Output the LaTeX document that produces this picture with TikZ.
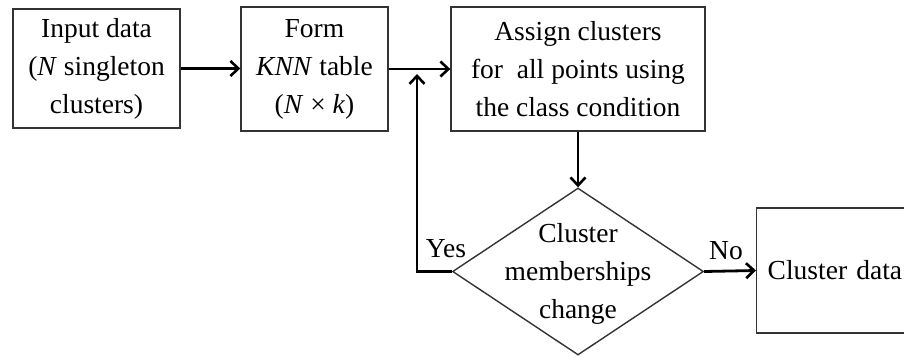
\documentclass[tikz,border=0pt]{standalone}
\usepackage{fontspec}
\setmainfont{Liberation Serif}
\usetikzlibrary{arrows.meta,shapes.geometric}
\begin{document}
\begin{tikzpicture}[x=1pt,y=-1pt,
  every node/.style={font=\fontsize{27.5}{38}\selectfont},
  box/.style={draw=black!80,line width=1.4pt,align=center,inner sep=0pt},
  dec/.style={draw=black!80,line width=1.4pt,diamond,inner sep=0pt},
  arr/.style={line width=2.8pt,-{Straight Barb[length=8pt,width=15pt,line width=2.6pt]}}]
\useasboundingbox (0,0) rectangle (904,356);
\clip (0,0) rectangle (904,356);
\node[box,minimum width=167pt,minimum height=119pt] (b1) at (96.5,68.5) {Input data\\(\textit{N} singleton\\clusters)};
\node[box,minimum width=147pt,minimum height=124pt] (b2) at (314.5,69) {Form\\\textit{KNN} table\\(\textit{N} × \textit{k})};
\node[box,minimum width=254pt,minimum height=124pt] (b3) at (578,69) {Assign clusters\\for~ all points using\\the class condition};
\node[dec,minimum width=251pt,minimum height=167pt] (d) at (578,271.5) {};
\node[align=center] (dt) at (578,274) {Cluster\\memberships\\change};
\node[box,anchor=west,text width=158pt,inner xsep=11pt,minimum height=125pt,align=left] (out) at (756,270.5) {Cluster data};
\coordinate (j) at (417,69);
\coordinate (fb) at (417,271.5);
\draw[arr] (b1.east) -- (b1.east -| b2.west);
\draw[arr] (b2.east) -- (b3.west);
\draw[arr] (b3.south) -- (d.north);
\draw[arr,shorten >=5pt] (d.west) -- (fb) -- (j);
\draw[arr] (d.east) -- (out.west);
\node[anchor=base] (yes) at (446,257) {Yes};
\node[anchor=base] (no) at (726,259) {No};
\end{tikzpicture}
\end{document}
